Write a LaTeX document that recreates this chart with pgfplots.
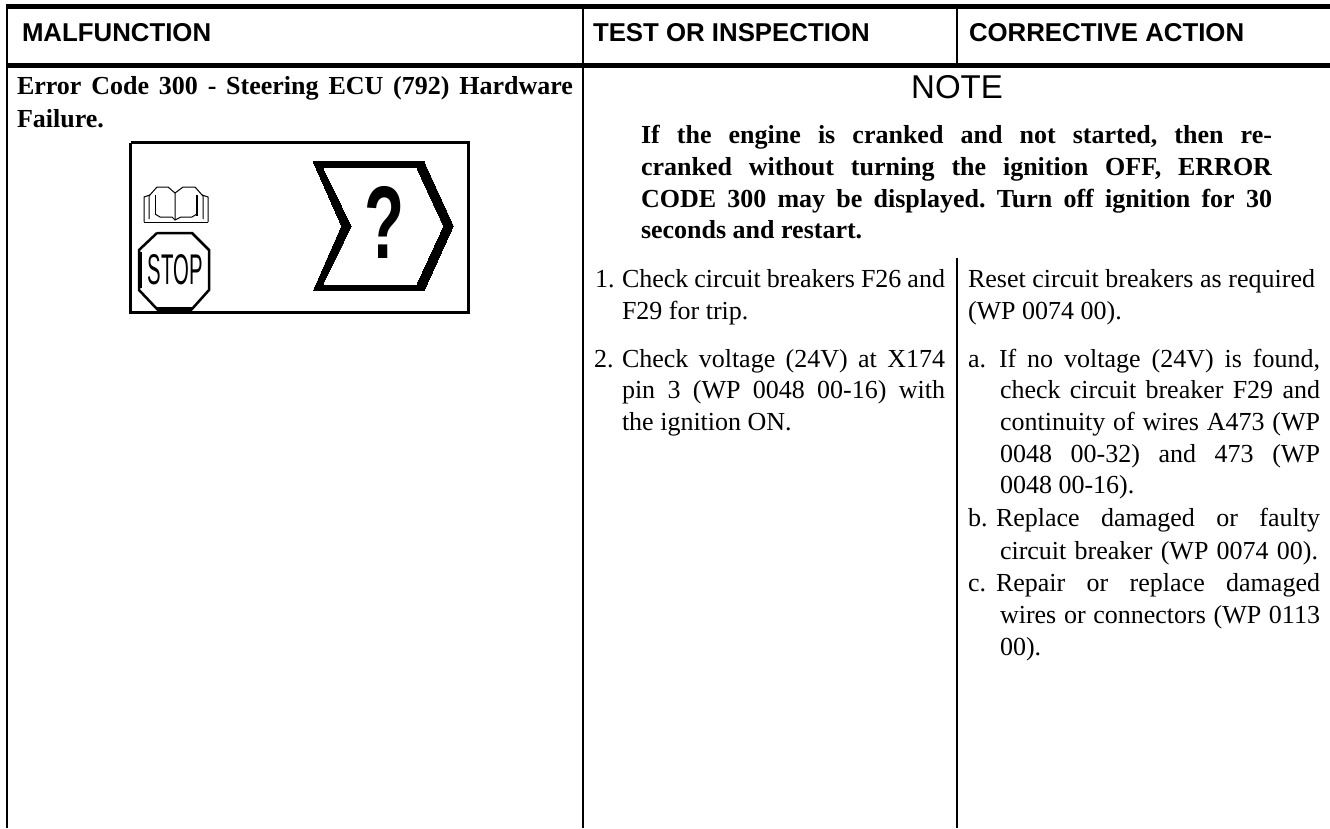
\documentclass[border=0pt]{standalone}
\usepackage{fontspec}
\usepackage{graphicx}
\usepackage{pgfplots}
\pgfplotsset{compat=1.18}
\setmainfont{Liberation Serif}
\newfontfamily\arial{Liberation Sans}
\frenchspacing
\newcommand{\bodyf}{\fontsize{26}{32}\selectfont\frenchspacing}
\newcommand{\txt}[3]{\node[anchor=base west,inner sep=0pt,outer sep=0pt] at (axis cs:#1,#2) {\bodyf #3};}
\newcommand{\jst}[4]{\node[anchor=base west,inner sep=0pt,outer sep=0pt] at (axis cs:#1,#2) {\bodyf\makebox[#3pt][s]{#4}};}
\newcommand{\hdr}[2]{\node[anchor=base west,inner sep=0pt,outer sep=0pt] at (axis cs:#1,41) {\arial\bfseries\fontsize{25.8}{30}\selectfont #2};}
\begin{document}
\begin{tikzpicture}
\begin{axis}[scale only axis,width=1330pt,height=828pt,xmin=0,xmax=1330,ymin=0,ymax=828,y dir=reverse,hide axis,clip=true]
% table rules
\addplot[black,line width=5pt] coordinates {(6,6.5) (1330,6.5)};
\addplot[black,line width=5pt] coordinates {(6,65.5) (1330,65.5)};
\addplot[black,line width=1.8pt] coordinates {(7,4) (7,828)};
\addplot[black,line width=1.8pt] coordinates {(583,4) (583,828)};
\addplot[black,line width=1.8pt] coordinates {(957,4) (957,68)};
\addplot[black,line width=1.8pt] coordinates {(957,258) (957,828)};
% icon frame
\addplot[black,line width=3pt] coordinates {(130.5,142.5) (468.5,142.5) (468.5,312) (130.5,312) (130.5,142.5)};
% chevron
\addplot[black,fill=black,line width=0pt] coordinates {(313.3,161.7) (424,161.7) (453.3,226) (424,290.7) (313.3,290.7) (341.7,226) (313.3,161.7)};
\addplot[white,fill=white,line width=0pt] coordinates {(324,168.3) (416,168.3) (442.7,226) (416,284) (324,284) (352.3,226) (324,168.3)};
% stop octagon
\addplot[black,line width=2.5pt] coordinates {(157,233) (192,233) (209,250) (209,290) (192,309) (157,309) (139,290) (139,250) (157,233)};
\addplot[black,line width=4pt] coordinates {(157,309) (192,309)};
\addplot[black,line width=4pt] coordinates {(140,252) (140,288)};
% book
\addplot[black,line width=1pt] coordinates {(144,222.5) (208,222.5)};
\addplot[black,line width=1pt] coordinates {(144,222) (144,197) (150,195)};
\addplot[black,line width=1pt] coordinates {(208,222) (208,197) (202,195)};
\addplot[black,line width=1pt] coordinates {(149,219) (149,196) (157,187) (168,187) (175,193) (175,220)};
\addplot[black,line width=1pt] coordinates {(203,219) (203,196) (195,187) (183,187) (175,193)};
\addplot[black,line width=1pt] coordinates {(155,214) (155,195)};
\addplot[black,line width=2pt] coordinates {(197,216) (197,195)};
\addplot[black,line width=1pt] coordinates {(155,214) (160,217) (172,217) (175,220) (181,217) (192,217) (197,214)};
\node[inner sep=0pt] at (axis cs:175.5,270) {\resizebox{55pt}{30pt}{\arial STOP}};
\node[inner sep=0pt] at (axis cs:385,222) {\resizebox{40pt}{72pt}{\arial\bfseries ?}};
% headers
\hdr{22}{MALFUNCTION}
\hdr{593}{TEST OR INSPECTION}
\hdr{969}{CORRECTIVE ACTION}
% malfunction
\jst{17}{94}{556}{\bfseries Error Code 300 - Steering ECU (792) Hardware}
\txt{17}{127}{\bfseries Failure.}
% note
\node[anchor=base,inner sep=0pt] at (axis cs:957,98) {\arial\fontsize{33}{36}\selectfont NOTE};
\jst{641}{143}{631}{\bfseries If the engine is cranked and not started, then re-}
\jst{641}{175}{631}{\bfseries cranked without turning the ignition OFF, ERROR}
\jst{641}{207}{631}{\bfseries CODE 300 may be displayed. Turn off ignition for 30}
\txt{641}{238}{\bfseries seconds and restart.}
% tests
\txt{595}{287}{1.}
\jst{622}{287}{323}{Check circuit breakers F26 and}
\txt{622}{319}{F29 for trip.}
\txt{594}{367}{2.}
\jst{622}{367}{323}{Check voltage (24V) at X174}
\jst{622}{398}{323}{pin 3 (WP 0048 00-16) with}
\txt{622}{430}{the ignition ON.}
% actions
\jst{968}{287}{347}{Reset circuit breakers as required}
\txt{968}{319}{(WP 0074 00).}
\txt{968}{367}{a.}
\jst{999}{367}{321}{If no voltage (24V) is found,}
\jst{1000}{398}{320}{check circuit breaker F29 and}
\jst{1000}{430}{320}{continuity of wires A473 (WP}
\jst{1000}{462}{320}{0048 00-32) and 473 (WP}
\txt{1000}{493}{0048 00-16).}
\txt{968}{526}{b.}
\jst{996}{526}{324}{Replace damaged or faulty}
\jst{1000}{559}{318}{circuit breaker (WP 0074 00).}
\txt{968}{591}{c.}
\jst{996}{591}{324}{Repair or replace damaged}
\jst{1000}{623}{320}{wires or connectors (WP 0113}
\txt{1000}{655}{00).}
\end{axis}
\pgfresetboundingbox
\path[use as bounding box] (0,0) rectangle (1330pt,828pt);
\end{tikzpicture}
\end{document}
